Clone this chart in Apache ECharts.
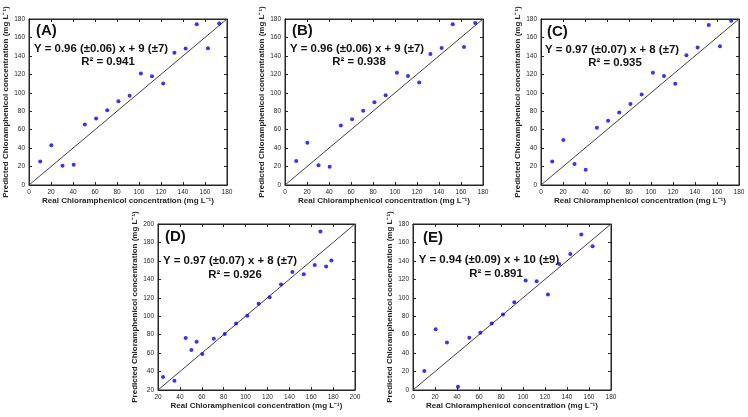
<!DOCTYPE html>
<html>
<head>
<meta charset="utf-8">
<script src="https://cdn.jsdelivr.net/npm/echarts@6/dist/echarts.min.js"></script>
<style>
  html, body { margin: 0; padding: 0; background: #fff; }
  #chart { width: 748px; height: 417px; }
</style>
</head>
<body>
<div id="chart"></div>
<script>
// real vs predicted chloramphenicol, five models (A-E)
var realABC = [10.2, 20.3, 30.5, 40.6, 50.8, 61, 71.1, 81.3, 91.5, 101.7, 111.8, 122, 132.2, 142.4, 152.5, 162.7, 172.9];
var predA = [25.6, 43.2, 20.9, 22, 65.5, 72, 81, 90.7, 96.8, 121, 118, 110, 143.3, 148, 174.2, 148.3, 175];
var predB = [26, 45.8, 21.3, 19.8, 64.6, 71.4, 80.4, 89.8, 97.4, 121.6, 118.3, 111.1, 142.1, 148.6, 174.2, 149.7, 175.7];
var predC = [25.6, 48.7, 22.7, 16.6, 62, 69.6, 78.6, 87.7, 98.1, 121.6, 118.3, 109.7, 140.7, 149, 173.5, 150.4, 178.2];
var realD = [24.6, 35, 45.3, 50.5, 55.3, 60.5, 71, 81, 91.3, 101.6, 112, 122, 132.4, 142.8, 153.2, 163.2, 168.4, 173.6, 178.4];
var predD = [34.1, 30.1, 76.3, 63.3, 72.3, 59, 75.5, 80.6, 92.1, 100.4, 113.4, 120.6, 134.3, 148, 145.5, 155.6, 192, 153.8, 160.3];
var realE = [10.3, 20.6, 30.9, 40.9, 51.2, 61.2, 71.5, 81.8, 92.1, 102.4, 112.4, 122.7, 133, 143, 153, 163.3];
var predE = [20.6, 66, 51.6, 3.6, 56.6, 62, 72.1, 81.9, 95.2, 118.7, 118, 103.5, 136.7, 147.5, 168.5, 155.8];

var labels = ['(A)', '(B)', '(C)', '(D)', '(E)'];
var equations = [
  'Y = 0.96 (±0.06) x + 9 (±7)',
  'Y = 0.96 (±0.06) x + 9 (±7)',
  'Y = 0.97 (±0.07) x + 8 (±7)',
  'Y = 0.97 (±0.07) x + 8 (±7)',
  'Y = 0.94 (±0.09) x + 10 (±9)'
];
var r2 = ['R² = 0.941', 'R² = 0.938', 'R² = 0.935', 'R² = 0.926', 'R² = 0.891'];
var axisMin = [0, 0, 0, 20, 0];
var axisMax = [180, 180, 180, 200, 180];

var xName = 'Real Chloramphenicol concentration (mg L\u207B\u00B9)';
var yName = 'Predicted Chloramphenicol concentration (mg L\u207B\u00B9)';

var panels = [
  {x: realABC, y: predA},
  {x: realABC, y: predB},
  {x: realABC, y: predC},
  {x: realD, y: predD},
  {x: realE, y: predE}
];

// layout of each panel: grid box and text spots
var grids = [
  {left: 29, top: 19, width: 198, height: 166},
  {left: 285, top: 19, width: 198, height: 166},
  {left: 541, top: 19, width: 198, height: 166},
  {left: 158, top: 224, width: 197, height: 166},
  {left: 413, top: 224, width: 198, height: 166}
];
var tagPos = [[36, 23], [292, 23], [547, 24], [165, 229], [423, 230]];
var eqPos = [[101, 49], [357, 49], [612, 50], [230, 261], [489, 260]];
var r2Pos = [[108, 62], [359, 62], [615, 63], [235, 275], [496, 274]];

var option = {
  backgroundColor: '#fff',
  animation: false,
  grid: [],
  xAxis: [],
  yAxis: [],
  series: [],
  graphic: []
};

var lineCol = '#262626';
var tickFont = {color: '#262626', fontSize: 6.5, fontFamily: 'Liberation Sans, Arial'};
var nameFont = {color: '#262626', fontSize: 8, fontWeight: 'bold', fontFamily: 'Liberation Sans, Arial'};

for (var i = 0; i < 5; i++) {
  var g = grids[i];
  option.grid.push({left: g.left, top: g.top, width: g.width, height: g.height,
    show: true, borderColor: lineCol, borderWidth: 1, backgroundColor: '#fff'});
  // bottom / left axes with labels
  option.xAxis.push({
    gridIndex: i, type: 'value', min: axisMin[i], max: axisMax[i], interval: 20,
    name: xName, nameLocation: 'middle', nameGap: 12, nameTextStyle: nameFont,
    axisLine: {show: true, lineStyle: {color: lineCol, width: 1}},
    axisTick: {show: true, inside: true, length: 3, lineStyle: {color: lineCol}},
    axisLabel: Object.assign({margin: 4}, tickFont),
    splitLine: {show: false}
  });
  option.yAxis.push({
    gridIndex: i, type: 'value', min: axisMin[i], max: axisMax[i], interval: 20,
    name: yName, nameLocation: 'middle', nameGap: 16, nameTextStyle: nameFont,
    axisLine: {show: true, lineStyle: {color: lineCol, width: 1}},
    axisTick: {show: true, inside: true, length: 3, lineStyle: {color: lineCol}},
    axisLabel: Object.assign({margin: 4}, tickFont),
    splitLine: {show: false}
  });
}
// top / right axes only for the box ticks
for (var i = 0; i < 5; i++) {
  option.xAxis.push({
    gridIndex: i, type: 'value', position: 'top', min: axisMin[i], max: axisMax[i], interval: 20,
    axisLine: {show: true, onZero: false, lineStyle: {color: lineCol}},
    axisTick: {show: true, inside: true, length: 3, lineStyle: {color: lineCol}},
    axisLabel: {show: false}, splitLine: {show: false}
  });
  option.yAxis.push({
    gridIndex: i, type: 'value', position: 'right', min: axisMin[i], max: axisMax[i], interval: 20,
    axisLine: {show: true, onZero: false, lineStyle: {color: lineCol}},
    axisTick: {show: true, inside: true, length: 3, lineStyle: {color: lineCol}},
    axisLabel: {show: false}, splitLine: {show: false}
  });
}

for (var i = 0; i < 5; i++) {
  var pts = panels[i].x.map(function(v, k) { return [v, panels[i].y[k]]; });
  // y = x reference line
  option.series.push({
    type: 'line', xAxisIndex: i, yAxisIndex: i, symbol: 'none', silent: true,
    lineStyle: {color: '#404040', width: 1},
    data: [[axisMin[i], axisMin[i]], [axisMax[i], axisMax[i]]], z: 2
  });
  option.series.push({
    type: 'scatter', xAxisIndex: i, yAxisIndex: i, symbol: 'circle', symbolSize: 4,
    itemStyle: {color: '#0000ff'}, data: pts, z: 3
  });
  option.graphic.push({type: 'text', left: tagPos[i][0], top: tagPos[i][1], z: 10,
    style: {text: labels[i], font: 'bold 15px "Liberation Sans", Arial', fill: '#111'}});
  option.graphic.push({type: 'text', x: eqPos[i][0], y: eqPos[i][1], z: 10,
    style: {text: equations[i], font: 'bold 11.4px "Liberation Sans", Arial', fill: '#111',
      align: 'center', verticalAlign: 'middle'}});
  option.graphic.push({type: 'text', x: r2Pos[i][0], y: r2Pos[i][1], z: 10,
    style: {text: r2[i], font: 'bold 11.4px "Liberation Sans", Arial', fill: '#111',
      align: 'center', verticalAlign: 'middle'}});
}

var myChart = echarts.init(document.getElementById('chart'), null, {renderer: 'canvas'});
myChart.setOption(option);
</script>
</body>
</html>
